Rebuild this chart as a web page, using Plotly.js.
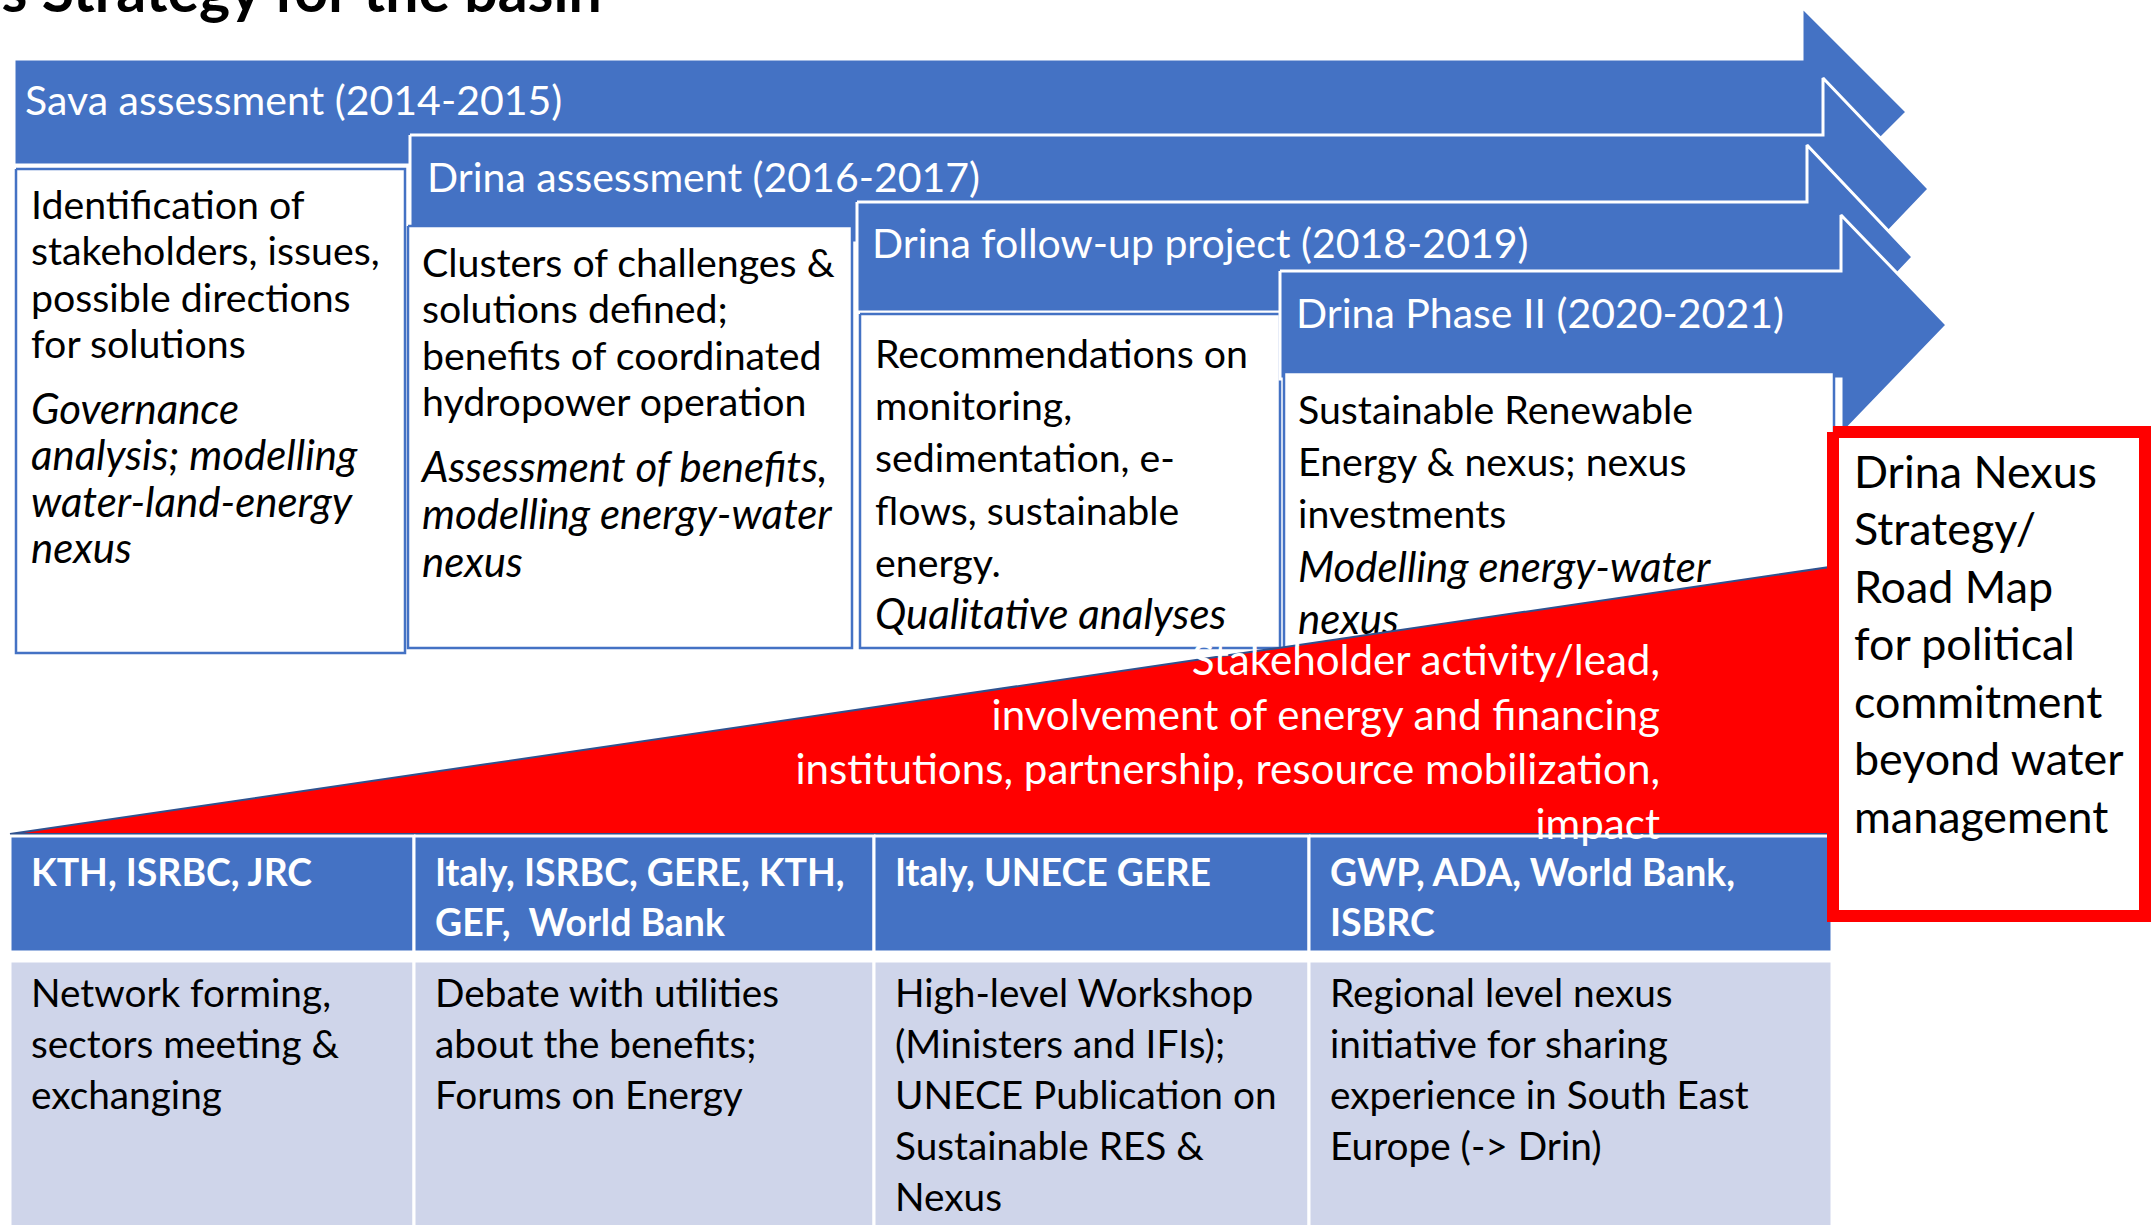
<!DOCTYPE html>
<html>
<head>
<meta charset="utf-8">
<script src="https://cdn.plot.ly/plotly-3.0.1.min.js"></script>
<style>
html,body{margin:0;padding:0;overflow:hidden;background:#ffffff;}
#chart{width:2154px;height:1225px;}
</style>
</head>
<body>
<div id="chart"></div>
<script>
// ---------------- DATA (text content of the diagram) ----------------
const titleText = 's Strategy for the basin';

const phaseNames = [
  'Sava assessment (2014-2015)',
  'Drina assessment (2016-2017)',
  'Drina follow-up project (2018-2019)',
  'Drina Phase II (2020-2021)'
];

const phaseFindings = [
  ['Identification of', 'stakeholders, issues,', 'possible directions', 'for solutions'],
  ['Clusters of challenges &', 'solutions defined;', 'benefits of coordinated', 'hydropower operation'],
  ['Recommendations on', 'monitoring,', 'sedimentation, e-', 'flows, sustainable', 'energy.'],
  ['Sustainable Renewable', 'Energy & nexus; nexus', 'investments']
];

const phaseMethods = [
  ['Governance', 'analysis; modelling', 'water-land-energy', 'nexus'],
  ['Assessment of benefits,', 'modelling energy-water', 'nexus'],
  ['Qualitative analyses'],
  ['Modelling energy-water', 'nexus']
];

const stakeholderLines = [
  'Stakeholder activity/lead,',
  'involvement of energy and financing',
  'institutions, partnership, resource mobilization,',
  'impact'
];

const partnerLines = [
  ['KTH, ISRBC, JRC'],
  ['Italy, ISRBC, GERE, KTH,', 'GEF,  World Bank'],
  ['Italy, UNECE GERE'],
  ['GWP, ADA, World Bank,', 'ISBRC']
];

const activityLines = [
  ['Network forming,', 'sectors meeting &', 'exchanging'],
  ['Debate with utilities', 'about the benefits;', 'Forums on Energy'],
  ['High-level Workshop', '(Ministers and IFIs);', 'UNECE Publication on', 'Sustainable RES &', 'Nexus'],
  ['Regional level nexus', 'initiative for sharing', 'experience in South East', 'Europe (-> Drin)']
];

const outcomeLines = ['Drina Nexus', 'Strategy/', 'Road Map', 'for political', 'commitment', 'beyond water', 'management'];

// ---------------- LAYOUT GEOMETRY & STYLE ----------------
const W = 2154, H = 1225;
const BLUE = '#4472C4', LAV = '#CFD5EA', RED = '#FF0000', EDGE = '#2F528F';
const FONT = 'Lato, "Open Sans", sans-serif';

const ARROWS = [
  {x0: 14,   xb: 1802, xt: 1907, yc: 112, bh: 53, hh: 105, lx: 25,   lb: 115},
  {x0: 410,  xb: 1823, xt: 1929, yc: 189, bh: 54, hh: 111, lx: 427,  lb: 192},
  {x0: 857,  xb: 1807, xt: 1913, yc: 257, bh: 55, hh: 112, lx: 872,  lb: 258},
  {x0: 1280, xb: 1841, xt: 1947, yc: 325, bh: 54, hh: 110, lx: 1296, lb: 328}
];
const BOXES = [
  {x0: 16,   x1: 405,  y0: 169, y1: 653, tx: 31,   rb: 219, rg: 46.5, ib: 424, ig: 46.3},
  {x0: 408,  x1: 852,  y0: 226, y1: 648, tx: 422,  rb: 277, rg: 46.5, ib: 482, ig: 47.5},
  {x0: 860,  x1: 1280, y0: 314, y1: 648, tx: 875,  rb: 368, rg: 52.2, ib: 629, ig: 52},
  {x0: 1284, x1: 1834, y0: 372, y1: 648, tx: 1298, rb: 424, rg: 52.2, ib: 582, ig: 52}
];
const TRI = {xl: 10, xr: 1830, yb: 834, yt: 567, tx: 1660, tb: 675, tg: 54.7};
const TABLE = {cols: [10, 414, 874, 1309, 1832], hy0: 836, hy1: 952, by0: 961, by1: 1240,
               pad: 21, hb: 886, hg: 50, bb: 1007, bg: 51};
const RBOX = {x0: 1833, x1: 2145, y0: 432, y1: 916, lw: 12, tx: 1854, tb: 488, tg: 57.5};
const TITLE = {x: 1.5, b: 12};

// ---------------- font-size fitting (match reference text widths) ----------------
const ctx = document.createElement('canvas').getContext('2d');
function measure(t, weight, style) {
  ctx.font = (style || 'normal') + ' ' + (weight || 'normal') + ' 100px Lato';
  return ctx.measureText(t).width;
}
function fit(pairs, weight, style) {
  let s = 0;
  pairs.forEach(p => { s += 100 * p[1] / measure(p[0], weight, style); });
  return s / pairs.length;
}
const S_TITLE = fit([[titleText, 603]], 'bold');
const S_LABEL = fit([[phaseNames[0], 540], [phaseNames[1], 554], [phaseNames[2], 658], [phaseNames[3], 484]]);
const S_BOX = fit([[phaseFindings[0][1], 350], [phaseFindings[1][0], 410], [phaseFindings[2][0], 375], [phaseFindings[3][0], 395]]);
const S_ITAL = fit([[phaseMethods[0][1], 327], [phaseMethods[1][1], 414], [phaseMethods[2][0], 345], [phaseMethods[3][0], 415]], 'normal', 'italic');
const S_TRI = fit([[stakeholderLines[2], 868], [stakeholderLines[1], 668]]);
const S_RBOX = fit([[outcomeLines[5], 267], [outcomeLines[4], 249], [outcomeLines[6], 257]]);
const S_HEAD = fit([[partnerLines[1][0], 411], [partnerLines[3][0], 420], [partnerLines[0][0], 272]], 'bold');
const S_BODY = fit([[activityLines[2][2], 372], [activityLines[0][1], 313], [activityLines[3][2], 421], [activityLines[1][0], 347]]);

// ---------------- trace builders ----------------
const traces = [];
function poly(xs, ys, fill, lc, lw) {
  traces.push({type: 'scatter', mode: 'lines', x: xs, y: ys, fill: 'toself', fillcolor: fill,
    line: {color: lc, width: lw, simplify: false}, hoverinfo: 'skip', showlegend: false, cliponaxis: false});
}
function rect(x0, y0, x1, y1, fill, lc, lw) {
  poly([x0, x1, x1, x0, x0], [y0, y0, y1, y1, y0], fill, lc, lw);
}
// baseline offset of a single text line relative to its anchor point, per vertical position
const BASE_SHIFT = {middle: 0.25, top: -0.25, bottom: 0.75};
function textLines(lines, x, base, gap, size, color, opts) {
  opts = opts || {};
  const pos = opts.pos || 'middle right';
  const v = pos.split(' ')[0];
  traces.push({type: 'scatter', mode: 'text',
    x: lines.map(() => x),
    y: lines.map((_, i) => base + i * gap - BASE_SHIFT[v] * size),
    text: lines,
    textposition: pos,
    textfont: {family: FONT, size: size, color: color, weight: opts.weight || 'normal', style: opts.style || 'normal'},
    hoverinfo: 'skip', showlegend: false, cliponaxis: false});
}

// phases: arrow + label + box + texts (later phases drawn over earlier ones)
phaseNames.forEach((name, i) => {
  const a = ARROWS[i], b = BOXES[i];
  poly([a.x0, a.xb, a.xb, a.xt, a.xb, a.xb, a.x0, a.x0],
       [a.yc - a.bh, a.yc - a.bh, a.yc - a.hh, a.yc, a.yc + a.hh, a.yc + a.bh, a.yc + a.bh, a.yc - a.bh],
       BLUE, '#ffffff', 3);
  textLines([name], a.lx, a.lb, 0, S_LABEL, '#ffffff');
  rect(b.x0, b.y0, b.x1, b.y1, '#ffffff', BLUE, 2.5);
  textLines(phaseFindings[i], b.tx, b.rb, b.rg, S_BOX, '#000000');
  textLines(phaseMethods[i], b.tx, b.ib, b.ig, S_ITAL, '#000000', {style: 'italic'});
});

// red wedge
poly([TRI.xl, TRI.xr, TRI.xr, TRI.xl], [TRI.yb, TRI.yt, TRI.yb, TRI.yb], RED, EDGE, 2);

// table
partnerLines.forEach((lines, i) => {
  const c0 = TABLE.cols[i], c1 = TABLE.cols[i + 1];
  rect(c0, TABLE.hy0, c1, TABLE.hy1, BLUE, '#ffffff', 3);
  rect(c0, TABLE.by0, c1, TABLE.by1, LAV, '#ffffff', 3);
});
partnerLines.forEach((lines, i) => {
  textLines(lines, TABLE.cols[i] + TABLE.pad, TABLE.hb, TABLE.hg, S_HEAD, '#ffffff', {weight: 'bold'});
  textLines(activityLines[i], TABLE.cols[i] + TABLE.pad, TABLE.bb, TABLE.bg, S_BODY, '#000000');
});

// wedge text
textLines(stakeholderLines, TRI.tx, TRI.tb, TRI.tg, S_TRI, '#ffffff', {pos: 'middle left'});

// red outcome box
rect(RBOX.x0, RBOX.y0, RBOX.x1, RBOX.y1, '#ffffff', RED, RBOX.lw);
textLines(outcomeLines, RBOX.tx, RBOX.tb, RBOX.tg, S_RBOX, '#000000');

// title (cut at top edge, as in the reference); anchored so the point stays inside the axis range
textLines([titleText], TITLE.x, TITLE.b, 0, S_TITLE, '#000000', {weight: 'bold', pos: 'top right'});

const layout = {
  width: W, height: H,
  margin: {l: 0, r: 0, t: 0, b: 0, pad: 0},
  paper_bgcolor: '#ffffff', plot_bgcolor: '#ffffff',
  showlegend: false, hovermode: false,
  xaxis: {range: [0, W], visible: false, fixedrange: true},
  yaxis: {range: [H, 0], visible: false, fixedrange: true}
};
Plotly.newPlot('chart', traces, layout, {staticPlot: true, displayModeBar: false});
</script>
</body>
</html>
